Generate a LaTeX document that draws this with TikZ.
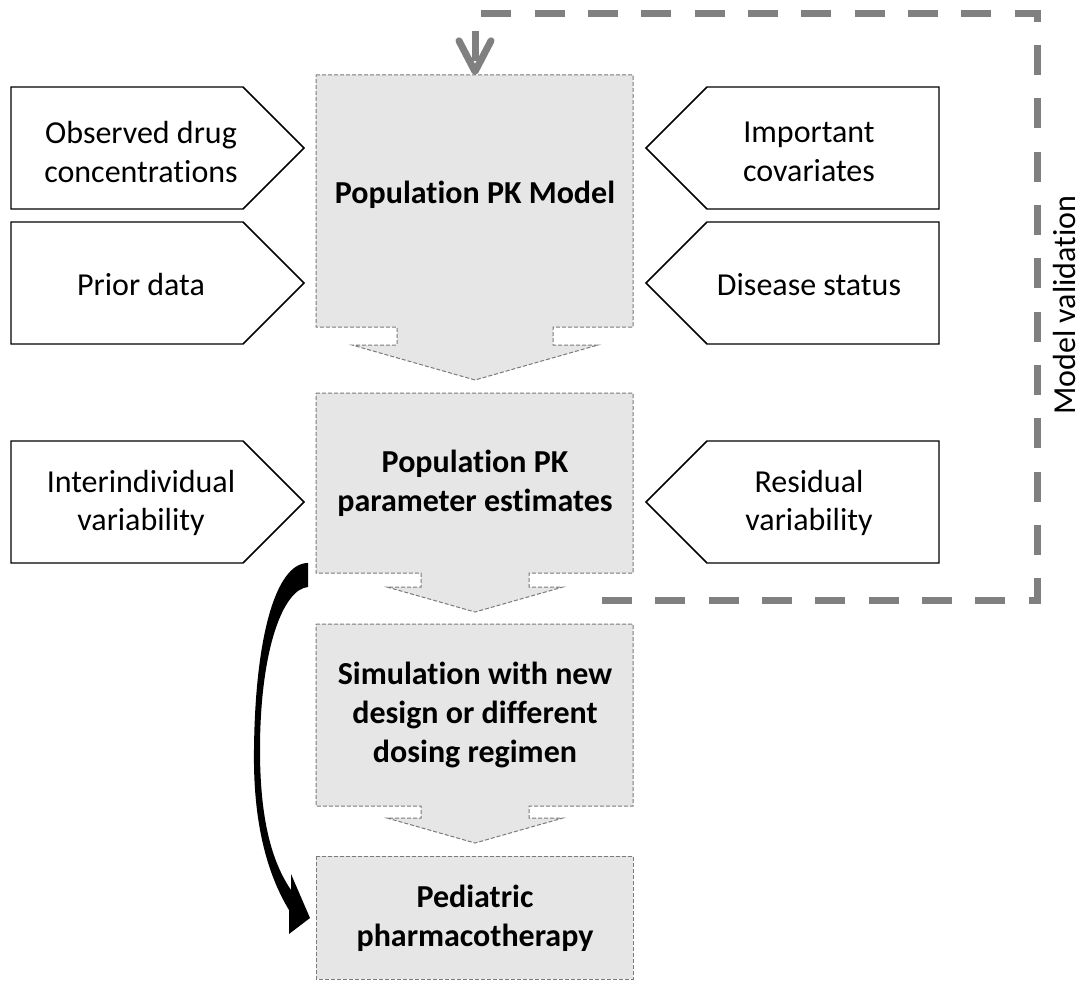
\documentclass[tikz,border=0pt]{standalone}
\usepackage{fontspec}
\setmainfont{Carlito}[Ligatures={NoCommon,NoRare,NoContextual}]
\usetikzlibrary{arrows.meta}
\definecolor{boxgray}{HTML}{E6E6E6}
\definecolor{bordergray}{HTML}{7A7A7A}
\definecolor{validgray}{HTML}{808080}
\begin{document}
\begin{tikzpicture}[x=0.75pt,y=-0.75pt,
  mainshape/.style={fill=boxgray, draw=bordergray, line width=0.75pt, dash pattern=on 3pt off 1.5pt},
  sidebox/.style={draw=black, line width=1.1pt, fill=white, line join=miter},
  lbl/.style={align=center, font=\fontsize{24}{29}\selectfont, inner sep=0pt},
  mlbl/.style={align=center, font=\fontsize{24}{29}\selectfont\bfseries, inner sep=0pt},
  valid/.style={draw=validgray, line width=5.25pt, dash pattern=on 22.5pt off 17.5pt}
]
\useasboundingbox (0,0) rectangle (1082,981);

% main boxes
\draw[mainshape] (316,75) -- (633,75) -- (633,327) -- (553,327) -- (553,345) -- (598,345) -- (475,380) -- (352,345) -- (397,345) -- (397,327) -- (316,327) -- cycle;
\draw[mainshape] (316,393) -- (633,393) -- (633,573) -- (529,573) -- (529,587) -- (563,587) -- (475,612) -- (387,587) -- (421,587) -- (421,573) -- (316,573) -- cycle;
\draw[mainshape] (316,624) -- (633,624) -- (633,806) -- (529,806) -- (529,818) -- (563,818) -- (475,843) -- (387,818) -- (421,818) -- (421,806) -- (316,806) -- cycle;
\draw[mainshape] (316,856) rectangle (633,979);

\node[mlbl] (m1) at (475,195) {Population PK Model};
\node[mlbl] (m2) at (475,483) {Population PK\\parameter estimates};
\node[mlbl] (m3) at (475,715) {Simulation with new\\design or different\\dosing regimen};
\node[mlbl] (m4) at (475,918) {Pediatric\\pharmacotherapy};

% left input arrows
\draw[sidebox] (11,87) -- (243,87) -- (304,148) -- (243,209) -- (11,209) -- cycle;
\draw[sidebox] (11,222) -- (243,222) -- (304,283) -- (243,344) -- (11,344) -- cycle;
\draw[sidebox] (11,441) -- (243,441) -- (304,502) -- (243,563) -- (11,563) -- cycle;
\node[lbl] (l1) at (141,152) {Observed drug\\concentrations};
\node[lbl] (l2) at (141,285) {Prior data};
\node[lbl] (l3) at (141,503) {Interindividual\\variability};

% right input arrows
\draw[sidebox] (939,87) -- (707,87) -- (646,148) -- (707,209) -- (939,209) -- cycle;
\draw[sidebox] (939,222) -- (707,222) -- (646,283) -- (707,344) -- (939,344) -- cycle;
\draw[sidebox] (939,441) -- (707,441) -- (646,502) -- (707,563) -- (939,563) -- cycle;
\node[lbl] (r1) at (809,152) {Important\\covariates};
\node[lbl] (r2) at (809,285) {Disease status};
\node[lbl] (r3) at (809,503) {Residual\\variability};

% model validation loop
\coordinate (vstart) at (602,600);
\coordinate (m1top) at (475,75);
\draw[valid, -{Straight Barb[length=23pt,width=24pt,line cap=round,line join=round]}]
  (vstart) -- (1037,600) -- (1037,14) -- (475,14) -- (m1top);
\node[lbl, rotate=90] (mv) at (1064,305) {Model validation};

% curved black arrow
\fill[black] (308,563) -- (308,587)
  .. controls (283,589) and (260,650) .. (260,750)
  .. controls (260,820) and (272,862) .. (291,890)
  -- (291,874) -- (310,918) -- (289,934) -- (289,910)
  .. controls (266,872) and (253,820) .. (254,750)
  .. controls (255,640) and (275,563) .. (308,563) -- cycle;
\end{tikzpicture}
\end{document}
